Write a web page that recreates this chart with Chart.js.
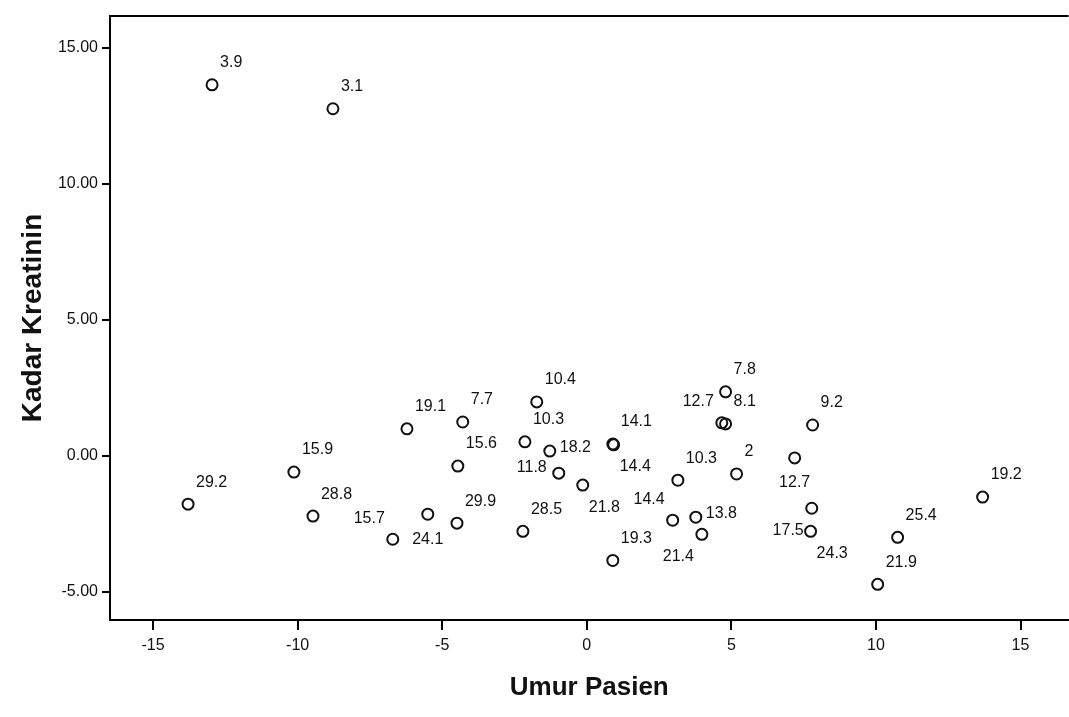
<!DOCTYPE html>
<html>
<head>
<meta charset="utf-8">
<script src="https://cdn.jsdelivr.net/npm/chart.js@4.4.1/dist/chart.umd.min.js"></script>
<style>
  html, body { margin: 0; padding: 0; background: #fff; overflow: hidden; }
</style>
</head>
<body>
<canvas id="grafico" width="1076" height="717"></canvas>
<script>
// datos (Umur Pasien vs Kadar Kreatinin)
var umur = [-12.96, -8.78, -13.79, -10.13, -9.47, -6.22, -6.71, -5.50, -4.29, -4.46,
            -4.49, -1.73, -2.14, -1.28, -0.97, -2.21, -0.14, 0.90, 0.93, 0.90,
            3.15, 2.97, 3.77, 3.98, 4.80, 4.67, 4.80, 5.18, 7.19, 7.81,
            7.78, 7.74, 10.06, 10.75, 13.69];
var kreatinin = [13.65, 12.77, -1.77, -0.59, -2.21, 1.00, -3.06, -2.14, 1.25, -0.37,
                 -2.47, 1.99, 0.52, 0.18, -0.63, -2.77, -1.07, 0.44, 0.41, -3.84,
                 -0.89, -2.36, -2.25, -2.88, 2.36, 1.22, 1.18, -0.66, -0.07, 1.14,
                 -1.92, -2.77, -4.72, -2.99, -1.51];
var etiquetas = ['3.9', '3.1', '29.2', '15.9', '28.8', '19.1', '15.7', '24.1', '7.7', '15.6',
                 '29.9', '10.4', '10.3', '18.2', '11.8', '28.5', '21.8', '14.1', '14.4', '19.3',
                 '10.3', '14.4', '13.8', '21.4', '7.8', '12.7', '8.1', '2', '12.7', '9.2',
                 '17.5', '24.3', '21.9', '25.4', '19.2'];
var ticksX = [-15, -10, -5, 0, 5, 10, 15];
var ticksY = [-5, 0, 5, 10, 15];

// donde va cada etiqueta respecto al punto
var lado = ['ur', 'ur', 'ur', 'ur', 'ur', 'ur', 'ul', 'b', 'ur', 'ur',
            'ur', 'ur', 'ur', 'r', 'l', 'ur', 'br', 'ur', 'br', 'ur',
            'ur', 'ul', 'r', 'bl', 'ur', 'ul', 'ur', 'ur', 'b', 'ur',
            'bl', 'br', 'ur', 'ur', 'ur'];
var offs = {
  ur: ['left', 8, -22], ul: ['right', -8, -21], l: ['right', -12, -6],
  r: ['left', 10, -4], b: ['center', 0, 25], br: ['left', 6, 22], bl: ['right', -8, 22]
};

var puntos = [];
for (let i = 0; i < umur.length; i++) {
  puntos.push({x: umur[i], y: kreatinin[i]});
}

var fuente = "'Liberation Sans', Arial, sans-serif";

// etiquetas de los puntos + linea de arriba del marco
var extras = {
  id: 'extras',
  afterDraw: function (chart) {
    var ctx = chart.ctx;
    var a = chart.chartArea;
    ctx.save();
    ctx.strokeStyle = '#000';
    ctx.lineWidth = 2;
    ctx.beginPath();
    ctx.moveTo(a.left, a.top);
    ctx.lineTo(a.right, a.top);
    ctx.stroke();

    ctx.fillStyle = '#111';
    ctx.font = '16px ' + fuente;
    ctx.textBaseline = 'middle';
    var meta = chart.getDatasetMeta(0);
    meta.data.forEach(function (p, i) {
      var o = offs[lado[i]];
      ctx.textAlign = o[0];
      ctx.fillText(etiquetas[i], p.x + o[1], p.y + o[2]);
    });
    ctx.restore();
  }
};

var ctx = document.getElementById('grafico').getContext('2d');
var chart = new Chart(ctx, {
  type: 'scatter',
  data: {
    datasets: [{
      data: puntos,
      pointStyle: 'circle',
      pointRadius: 5.5,
      pointBorderWidth: 2,
      pointBorderColor: '#111',
      pointBackgroundColor: 'rgba(0,0,0,0)'
    }]
  },
  options: {
    responsive: false,
    animation: false,
    layout: { padding: { top: 16, right: 0, left: 0, bottom: 0 } },
    plugins: { legend: { display: false }, tooltip: { enabled: false } },
    scales: {
      x: {
        type: 'linear',
        min: -16.49,
        max: 16.66,
        afterBuildTicks: function (s) { s.ticks = ticksX.map(function (v) { return {value: v}; }); },
        afterFit: function (s) { s.height = 97; },
        grid: { display: true, drawOnChartArea: false, drawTicks: true, tickLength: 10, color: '#000', lineWidth: 2 },
        border: { display: true, color: '#000', width: 2 },
        ticks: { color: '#111', padding: 6, font: { family: fuente, size: 16 } },
        title: { display: true, text: 'Umur Pasien', color: '#111', padding: { top: 0, bottom: 14 },
                 font: { family: fuente, size: 26, weight: 'bold' } }
      },
      y: {
        type: 'linear',
        min: -6.03,
        max: 16.18,
        afterBuildTicks: function (s) { s.ticks = ticksY.map(function (v) { return {value: v}; }); },
        afterFit: function (s) { s.width = 110; },
        grid: { display: true, drawOnChartArea: false, drawTicks: true, tickLength: 8, color: '#000', lineWidth: 2 },
        border: { display: true, color: '#000', width: 2 },
        ticks: { color: '#111', padding: 4, font: { family: fuente, size: 16 },
                 callback: function (v) { return v.toFixed(2); } },
        title: { display: true, text: 'Kadar Kreatinin', color: '#111', padding: { top: 16, bottom: 0 },
                 font: { family: fuente, size: 28, weight: 'bold' } }
      }
    }
  },
  plugins: [extras]
});
</script>
</body>
</html>
